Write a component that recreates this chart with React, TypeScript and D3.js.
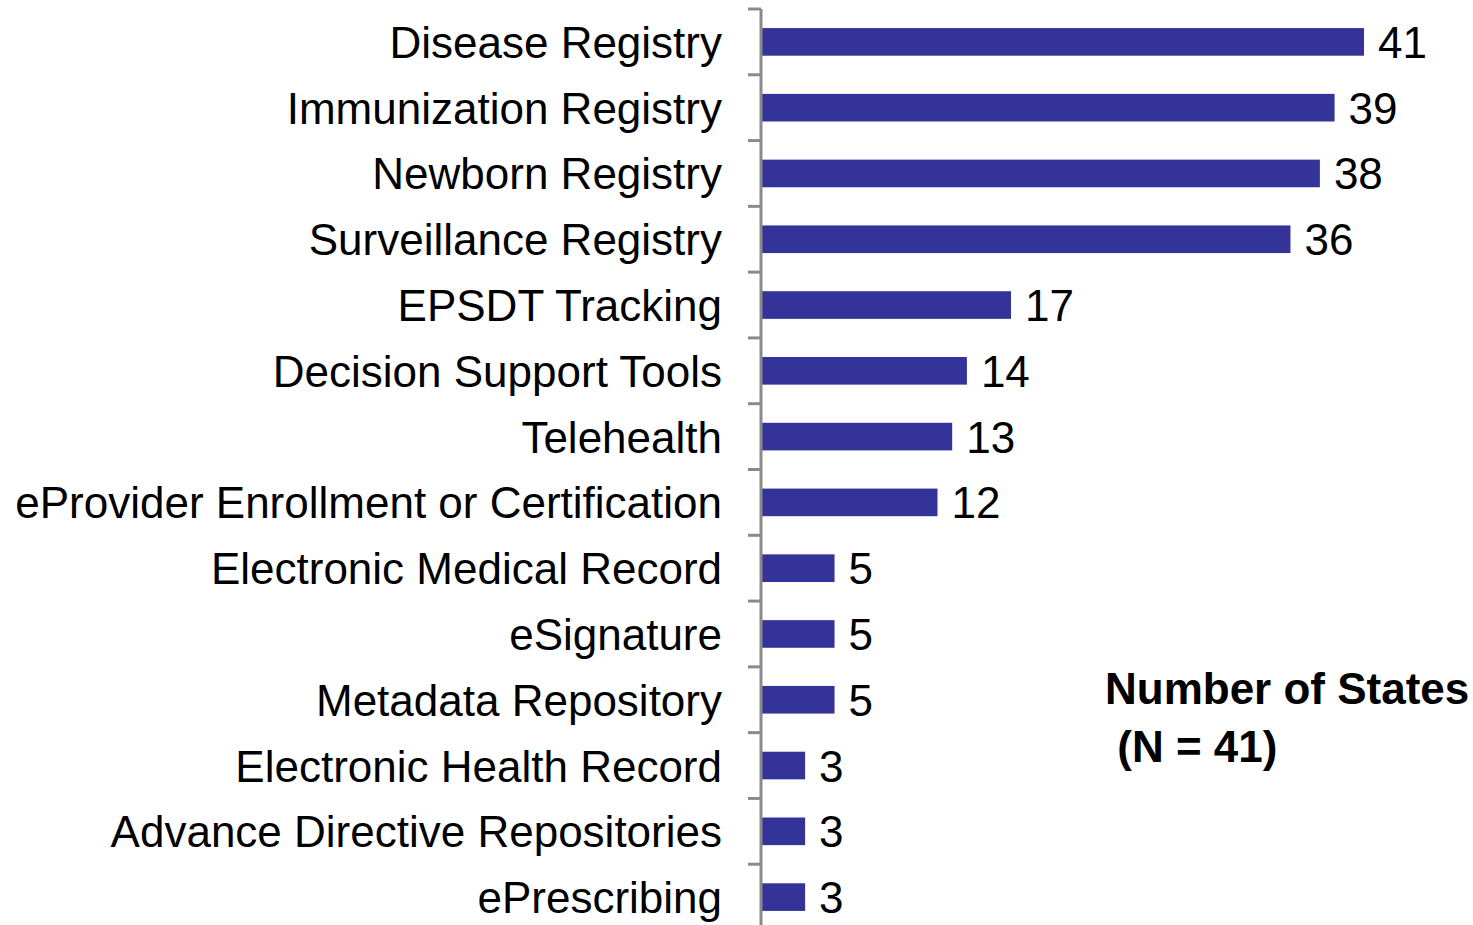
import React from "react";
import * as d3 from "d3";

const categories = [
  "Disease Registry",
  "Immunization Registry",
  "Newborn Registry",
  "Surveillance Registry",
  "EPSDT Tracking",
  "Decision Support Tools",
  "Telehealth",
  "eProvider Enrollment or Certification",
  "Electronic Medical Record",
  "eSignature",
  "Metadata Repository",
  "Electronic Health Record",
  "Advance Directive Repositories",
  "ePrescribing",
];
const values = [41, 39, 38, 36, 17, 14, 13, 12, 5, 5, 5, 3, 3, 3];
const noteLines = ["Number of States", " (N = 41)"];

const W = 1473;
const H = 925;
const FONT = "'Liberation Sans', Arial, sans-serif";

export default function App() {
  const x = d3.scaleLinear().domain([0, 41]).range([761, 1364]);
  const y = d3.scaleBand<string>().domain(categories).range([9, 930]).padding(0);
  const bw = y.bandwidth();
  const barH = bw * 0.42;
  const boundaries = d3.range(categories.length + 1).map((i) => 9 + i * bw);

  return (
    <div style={{ position: "absolute", left: 0, top: 0 }}>
      <svg width={W} height={H} style={{ display: "block", background: "#fff" }}>
        {categories.map((c, i) => {
          const yc = (y(c) as number) + bw / 2;
          return (
            <g key={c}>
              <rect
                x={x(0)}
                y={yc - barH / 2}
                width={x(values[i]) - x(0)}
                height={barH}
                fill="#333399"
              />
              <text
                x={722}
                y={yc + 16}
                textAnchor="end"
                fontFamily={FONT}
                fontSize={44}
                fill="#000"
              >
                {c}
              </text>
              <text
                x={x(values[i]) + 14}
                y={yc + 16}
                fontFamily={FONT}
                fontSize={44}
                fill="#000"
              >
                {values[i]}
              </text>
            </g>
          );
        })}
        <line x1={761} x2={761} y1={9} y2={930} stroke="#8a8a8a" strokeWidth={3} />
        {boundaries.map((b, i) => (
          <line key={i} x1={748} x2={761} y1={b} y2={b} stroke="#8a8a8a" strokeWidth={3} />
        ))}
        {noteLines.map((t, i) => (
          <text
            key={i}
            x={1105}
            y={704 + i * 58}
            fontFamily={FONT}
            fontSize={44}
            fontWeight="bold"
            fill="#000"
            style={{ whiteSpace: "pre" }}
          >
            {t}
          </text>
        ))}
      </svg>
    </div>
  );
}
